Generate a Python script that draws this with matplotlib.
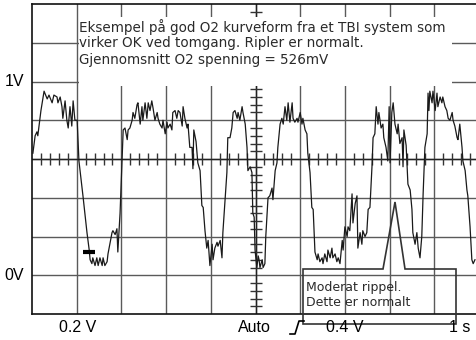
import matplotlib.pyplot as plt
from matplotlib.patches import Rectangle, Polygon
from matplotlib.lines import Line2D
import numpy as np

# O2 sensor trace (1 s/div, 0.2 V/div)
time_s = [
    0.02, 0.07, 0.11, 0.13, 0.20, 0.27, 0.34, 0.38, 0.45, 0.49, 0.56, 0.58, 0.63, 0.67, 0.69,
    0.74, 0.78, 0.81, 0.85, 0.89, 0.92, 0.96, 1.01, 1.05, 1.14, 1.23, 1.28, 1.30, 1.34, 1.36,
    1.41, 1.45, 1.48, 1.52, 1.57, 1.59, 1.63, 1.68, 1.70, 1.79, 1.81, 1.86, 1.90, 1.92, 1.97,
    2.01, 2.04, 2.08, 2.13, 2.15, 2.19, 2.24, 2.26, 2.30, 2.35, 2.37, 2.42, 2.46, 2.48, 2.53,
    2.57, 2.60, 2.64, 2.68, 2.71, 2.75, 2.80, 2.82, 2.86, 2.91, 2.93, 2.98, 3.02, 3.04, 3.09,
    3.13, 3.15, 3.20, 3.24, 3.27, 3.31, 3.36, 3.38, 3.42, 3.47, 3.49, 3.53, 3.58, 3.60, 3.62,
    3.67, 3.71, 3.76, 3.80, 3.83, 3.87, 3.91, 3.94, 3.98, 4.03, 4.05, 4.09, 4.14, 4.16, 4.21,
    4.25, 4.27, 4.32, 4.36, 4.38, 4.43, 4.47, 4.50, 4.54, 4.59, 4.61, 4.65, 4.70, 4.72, 4.77,
    4.81, 4.83, 4.88, 4.92, 4.94, 4.97, 4.99, 5.03, 5.06, 5.08, 5.10, 5.15, 5.17, 5.21, 5.23,
    5.28, 5.32, 5.37, 5.39, 5.44, 5.48, 5.50, 5.55, 5.59, 5.62, 5.66, 5.70, 5.73, 5.77, 5.82,
    5.84, 5.88, 5.93, 5.95, 6.00, 6.04, 6.06, 6.11, 6.15, 6.17, 6.22, 6.26, 6.29, 6.33, 6.38,
    6.40, 6.44, 6.49, 6.51, 6.55, 6.60, 6.62, 6.67, 6.71, 6.73, 6.78, 6.82, 6.85, 6.89, 6.94,
    6.96, 7.00, 7.05, 7.07, 7.11, 7.16, 7.18, 7.23, 7.27, 7.29, 7.34, 7.38, 7.40, 7.45, 7.49,
    7.52, 7.56, 7.61, 7.63, 7.67, 7.70, 7.74, 7.76, 7.81, 7.85, 7.87, 7.92, 7.96, 7.99, 8.01,
    8.05, 8.08, 8.12, 8.17, 8.19, 8.23, 8.28, 8.30, 8.32, 8.37, 8.41, 8.46, 8.50, 8.52, 8.57,
    8.61, 8.64, 8.68, 8.72, 8.75, 8.79, 8.84, 8.86, 8.88, 8.90, 8.95, 8.97, 9.02, 9.06, 9.08,
    9.13, 9.17, 9.19, 9.24, 9.28, 9.31, 9.35, 9.40, 9.42, 9.46, 9.51, 9.53, 9.57, 9.62, 9.64,
    9.69, 9.73, 9.75, 9.80, 9.84, 9.87, 9.91,
]
volts = [
    0.63, 0.72, 0.74, 0.72, 0.85, 0.95, 0.91, 0.93, 0.89, 0.93, 0.92, 0.89, 0.92, 0.87, 0.81,
    0.90, 0.80, 0.76, 0.87, 0.77, 0.90, 0.80, 0.80, 0.59, 0.41, 0.22, 0.13, 0.08, 0.06, 0.09,
    0.05, 0.09, 0.05, 0.09, 0.05, 0.09, 0.05, 0.07, 0.11, 0.22, 0.23, 0.21, 0.24, 0.12, 0.32,
    0.56, 0.75, 0.76, 0.70, 0.75, 0.76, 0.80, 0.84, 0.81, 0.88, 0.89, 0.78, 0.87, 0.80, 0.89,
    0.81, 0.89, 0.85, 0.90, 0.86, 0.80, 0.84, 0.81, 0.78, 0.76, 0.80, 0.73, 0.79, 0.76, 0.78,
    0.75, 0.84, 0.85, 0.81, 0.85, 0.84, 0.77, 0.87, 0.81, 0.76, 0.78, 0.66, 0.66, 0.55, 0.75,
    0.69, 0.58, 0.54, 0.36, 0.35, 0.23, 0.14, 0.18, 0.05, 0.16, 0.08, 0.14, 0.17, 0.15, 0.18,
    0.09, 0.22, 0.39, 0.53, 0.71, 0.71, 0.76, 0.84, 0.85, 0.81, 0.84, 0.80, 0.87, 0.84, 0.78,
    0.66, 0.54, 0.56, 0.53, 0.32, 0.30, 0.13, 0.04, 0.10, 0.08, 0.04, 0.08, 0.04, 0.06, 0.20,
    0.40, 0.41, 0.45, 0.39, 0.54, 0.58, 0.66, 0.78, 0.81, 0.78, 0.87, 0.80, 0.89, 0.79, 0.89,
    0.81, 0.79, 0.81, 0.79, 0.84, 0.78, 0.81, 0.75, 0.73, 0.63, 0.53, 0.35, 0.34, 0.12, 0.08,
    0.11, 0.07, 0.09, 0.06, 0.11, 0.07, 0.13, 0.09, 0.14, 0.09, 0.11, 0.07, 0.09, 0.06, 0.18,
    0.13, 0.25, 0.20, 0.25, 0.23, 0.42, 0.27, 0.37, 0.41, 0.14, 0.22, 0.16, 0.23, 0.20, 0.22,
    0.34, 0.35, 0.58, 0.71, 0.73, 0.87, 0.78, 0.84, 0.76, 0.78, 0.71, 0.66, 0.59, 0.87, 0.58,
    0.84, 0.89, 0.78, 0.73, 0.78, 0.68, 0.71, 0.56, 0.75, 0.67, 0.47, 0.44, 0.34, 0.22, 0.16,
    0.22, 0.14, 0.09, 0.20, 0.42, 0.66, 0.73, 0.94, 0.85, 0.95, 0.89, 0.95, 0.85, 0.94, 0.87,
    0.92, 0.89, 0.92, 0.87, 0.85, 0.81, 0.80, 0.84, 0.80, 0.77, 0.71, 0.70, 0.78, 0.66, 0.59,
    0.54, 0.44, 0.41, 0.25, 0.08, 0.06, 0.08,
]

info_lines = [
    "Eksempel på god O2 kurveform fra et TBI system som",
    "virker OK ved tomgang. Ripler er normalt.",
    "Gjennomsnitt O2 spenning = 526mV",
]
note_lines = ["Moderat rippel.", "Dette er normalt"]
bottom_labels = [("0.2 V", 78), ("Auto", 254), ("0.4 V", 345), ("1 s", 460)]

W, H = 476, 340
X0, Y0 = 32, 314          # pixel position of (0 s, -0.2 V)
XDIV, YDIV = 44.7, 38.75  # pixels per division

GRID = "#5a5a5a"

fig = plt.figure(figsize=(W / 100, H / 100), dpi=100)
ax = fig.add_axes([X0 / W, (H - Y0) / H, (W - X0) / W, (Y0 - 4) / H])
ax.set_xlim(0, (W - X0) / XDIV)
ax.set_ylim(-0.2, 1.4)
ax.set_xticks([])
ax.set_yticks([])
for s in ("left", "bottom", "top"):
    ax.spines[s].set_color("#111111")
    ax.spines[s].set_linewidth(1.2)
ax.spines["right"].set_visible(False)

# graticule
for t in range(1, 10):
    ax.axvline(t, color=GRID, lw=1.0, zorder=1)
for v in np.arange(0.0, 1.3, 0.2):
    ax.axhline(v, color=GRID, lw=1.0, zorder=1)

# centre axes with small ticks
ax.axhline(0.6, color="#222222", lw=1.0, zorder=1)
ax.axvline(5, color="#222222", lw=1.0, zorder=1)
tx = [t / 5 for t in range(1, 50) if t % 5]
ax.plot(tx, [0.6] * len(tx), ls="none", marker="|", ms=9, mew=1.0, color="#333333", zorder=1)
ty = [-0.2 + k * 0.04 for k in range(1, 40) if k % 5]
ax.plot([5] * len(ty), ty, ls="none", marker="_", ms=9, mew=1.0, color="#333333", zorder=1)

# white panel behind the description text
ax.add_patch(Rectangle(((79 - X0) / XDIV, -0.2 + (Y0 - 86) / YDIV * 0.2),
                       (452 - 79) / XDIV, (86 - 17) / YDIV * 0.2,
                       facecolor="white", edgecolor="none", zorder=2))
for i, line in enumerate(info_lines):
    fig.text(79 / W, 1 - (27 + i * 16.5) / H, line, fontsize=9.75, family="DejaVu Sans",
             color="#2a2a2a", ha="left", va="center", zorder=3)

# trace
ax.plot(time_s, volts, color="#1a1a1a", lw=0.9, zorder=4)

# reference marker
ax.plot([1.14, 1.41], [0.12, 0.12], color="black", lw=3, solid_capstyle="butt", zorder=4)

# callout box with pointer
def px(x, y):
    return ((x - X0) / XDIV, -0.2 + (Y0 - y) / YDIV * 0.2)

callout = Polygon([px(303, 269), px(383, 269), px(395, 202), px(405, 269), px(456, 269),
                   px(456, 324), px(303, 324)], closed=True, fill=False,
                  edgecolor="#333333", lw=1.2, zorder=5, clip_on=False)
ax.add_patch(callout)
for i, line in enumerate(note_lines):
    fig.text(306 / W, 1 - (287 + i * 15.5) / H, line, fontsize=9.0, family="DejaVu Sans",
             color="#2a2a2a", ha="left", va="center")

# scope labels
fig.text(14 / W, 1 - 81 / H, "1V", fontsize=11.5, family="Liberation Sans", ha="center", va="center")
fig.text(14 / W, 1 - 275 / H, "0V", fontsize=11.5, family="Liberation Sans", ha="center", va="center")
for lab, x in bottom_labels:
    fig.text(x / W, 1 - 328 / H, lab, fontsize=11.5, family="Liberation Sans",
             ha="center", va="center")
fig.add_artist(Line2D([290 / W, 295 / W, 299 / W, 304 / W],
                      [1 - 334 / H, 1 - 334 / H, 1 - 321 / H, 1 - 321 / H],
                      color="black", lw=1.2))

fig.savefig("out.png", dpi=100)
